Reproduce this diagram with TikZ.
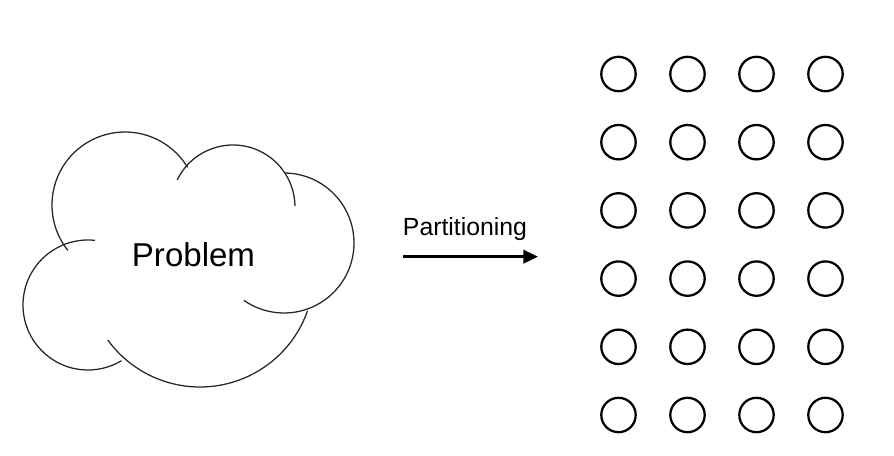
\documentclass[tikz,border=0pt]{standalone}
\usepackage{fontspec}
\setmainfont{Liberation Sans}
\usetikzlibrary{arrows.meta}
\begin{document}
\begin{tikzpicture}[x=0.75pt,y=-0.75pt,
  cloudline/.style={line width=0.95pt,black!85},
  dot/.style={circle,draw,line width=1.7pt,minimum size=25.8pt,inner sep=0pt},
  flow/.style={line width=2.2pt,-{Triangle[length=11pt,width=10pt]}},
  lbl/.style={inner sep=0pt,anchor=base}]
\useasboundingbox (0,0) rectangle (894,456);
% cloud lobes
\draw[cloudline] ([shift={(141.6:73)}]125,205) arc[start angle=141.6,end angle=329,radius=73];
\draw[cloudline] ([shift={(206:62)}]233,207) arc[start angle=206,end angle=359,radius=62];
\draw[cloudline] ([shift={(271:70)}]284,243) arc[start angle=271,end angle=485,radius=70];
\draw[cloudline] ([shift={(19.4:114)}]200,273) arc[start angle=19.4,end angle=144,radius=114];
\draw[cloudline] ([shift={(276:65)}]88,305) arc[start angle=276,end angle=59,radius=65];
\node[lbl,font=\fontsize{24.8pt}{28pt}\selectfont] (problem) at (193.5,267) {Problem};
% arrow
\coordinate (as) at (403,256.7);
\coordinate (ae) at (538,256.7);
\draw[flow] (as) -- (ae);
\node[lbl,font=\fontsize{18.6pt}{22pt}\selectfont] (part) at (465,236) {Partitioning};
% grid of circles
\foreach \i in {0,1,2,3}{
  \foreach \j in {0,...,5}{
    \node[dot] (c\i\j) at ({618.5+69*\i},{74+68.2*\j}) {};
  }
}
\end{tikzpicture}
\end{document}
